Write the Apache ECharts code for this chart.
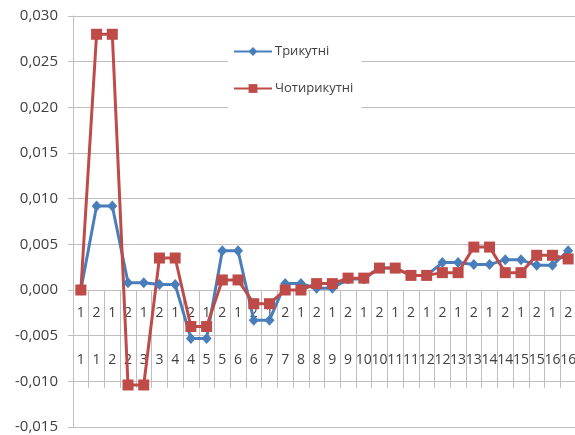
<!DOCTYPE html>
<html>
<head>
<meta charset="utf-8">
<script src="https://cdn.jsdelivr.net/npm/echarts@6/dist/echarts.min.js"></script>
<style>html,body{margin:0;padding:0;background:#fff}#c{width:575px;height:435px}</style>
</head>
<body>
<div id="c"></div>
<script>
// Category labels (two rows, as in the original two-level axis)
var labelRow1 = ['1','2','1','2','1','2','1','2','1','2','1','2','1','2','1','2','1','2','1','2','1','2','1','2','1','2','1','2','1','2','1','2'];
var labelRow2 = ['1','1','2','2','3','3','4','4','5','5','6','6','7','7','8','8','9','9','10','10','11','11','12','12','13','13','14','14','15','15','16','16'];

var seriesNames = ['Трикутні', 'Чотирикутні'];

var triangular = [0, 0.0092, 0.0092, 0.0008, 0.0008, 0.0006, 0.0006, -0.0053, -0.0053, 0.0043, 0.0043,
  -0.0033, -0.0033, 0.0007, 0.0007, 0.0002, 0.0002, 0.0012, 0.0012, 0.0024, 0.0024, 0.0016, 0.0016,
  0.0030, 0.0030, 0.0028, 0.0028, 0.0033, 0.0033, 0.0027, 0.0027, 0.0043];

var quadrangular = [0, 0.0280, 0.0280, -0.0104, -0.0104, 0.0035, 0.0035, -0.0040, -0.0040, 0.0011, 0.0011,
  -0.0015, -0.0015, 0.0000, 0.0000, 0.0007, 0.0007, 0.0013, 0.0013, 0.0024, 0.0024, 0.0016, 0.0016,
  0.0019, 0.0019, 0.0047, 0.0047, 0.0019, 0.0019, 0.0038, 0.0038, 0.0034];

var yMin = -0.015, yMax = 0.030, yStep = 0.005;

var categories = labelRow1.map(function (v, i) { return v + '|' + labelRow2[i] + '|' + i; });

var chart = echarts.init(document.getElementById('c'), null, { renderer: 'canvas' });
var font = "'Open Sans', 'Noto Sans', sans-serif";
var textColor = '#404040';
var gridColor = '#bfbfbf';

chart.setOption({
  animation: false,
  backgroundColor: '#ffffff',
  textStyle: { fontFamily: font },
  grid: [
    { left: 73, right: -1, top: 16, bottom: 8, containLabel: false, outerBoundsMode: 'none' },
    // label strip: its bottom edge sits on the zero line of the main grid
    { left: 73, right: -1, top: 200, bottom: 145, containLabel: false, outerBoundsMode: 'none' }
  ],
  legend: {
    data: seriesNames,
    orient: 'vertical',
    left: 228,
    top: 30,
    padding: [15, 8, 13, 5],
    backgroundColor: '#ffffff',
    itemWidth: 38,
    itemHeight: 11,
    itemGap: 24,
    textStyle: { fontFamily: font, fontSize: 13, color: textColor, padding: [0, 0, 0, -2] }
  },
  xAxis: [
    {
      type: 'category',
      gridIndex: 0,
      data: categories,
      boundaryGap: true,
      axisLine: { onZero: true, lineStyle: { color: gridColor, width: 1 } },
      axisTick: { show: true, length: 98, alignWithLabel: false, interval: 0, lineStyle: { color: gridColor } },
      axisLabel: { show: false },
      splitLine: { show: false }
    },
    {
      type: 'category',
      gridIndex: 1,
      data: categories,
      boundaryGap: true,
      position: 'bottom',
      axisLine: { show: false, onZero: false },
      axisTick: { show: false },
      splitLine: { show: false },
      axisLabel: {
        interval: 0,
        margin: 15,
        fontFamily: font,
        fontSize: 14,
        color: textColor,
        formatter: function (v) {
          var p = v.split('|');
          return '{a|' + p[0] + '}\n{b|' + p[1] + '}';
        },
        rich: {
          a: { fontFamily: font, fontSize: 14, color: textColor, lineHeight: 16 },
          b: { fontFamily: font, fontSize: 14, color: textColor, lineHeight: 78 }
        }
      }
    }
  ],
  yAxis: [
    {
      type: 'value',
      gridIndex: 0,
      min: yMin,
      max: yMax,
      interval: yStep,
      axisLine: { show: true, lineStyle: { color: gridColor } },
      axisTick: { show: true, length: 5, lineStyle: { color: gridColor } },
      axisLabel: {
        margin: 15,
        fontFamily: font,
        fontSize: 15,
        color: textColor,
        formatter: function (v) {
          return (Math.round(v * 1000) / 1000).toFixed(3).replace('.', ',');
        }
      },
      splitLine: { show: true, lineStyle: { color: gridColor, width: 1 } }
    },
    {
      type: 'value',
      gridIndex: 1,
      show: false,
      min: 0,
      max: 1
    }
  ],
  series: [
    {
      name: seriesNames[0],
      type: 'line',
      xAxisIndex: 0,
      yAxisIndex: 0,
      data: triangular,
      symbol: 'diamond',
      symbolSize: [10, 11],
      showAllSymbol: true,
      lineStyle: { color: '#4a7ebb', width: 3 },
      itemStyle: { color: '#4a7ebb', borderWidth: 0 }
    },
    {
      name: seriesNames[1],
      type: 'line',
      xAxisIndex: 0,
      yAxisIndex: 0,
      data: quadrangular,
      symbol: 'rect',
      symbolSize: 11,
      showAllSymbol: true,
      lineStyle: { color: '#be4b48', width: 3 },
      itemStyle: { color: '#be4b48', borderWidth: 0 }
    }
  ]
});
</script>
</body>
</html>
